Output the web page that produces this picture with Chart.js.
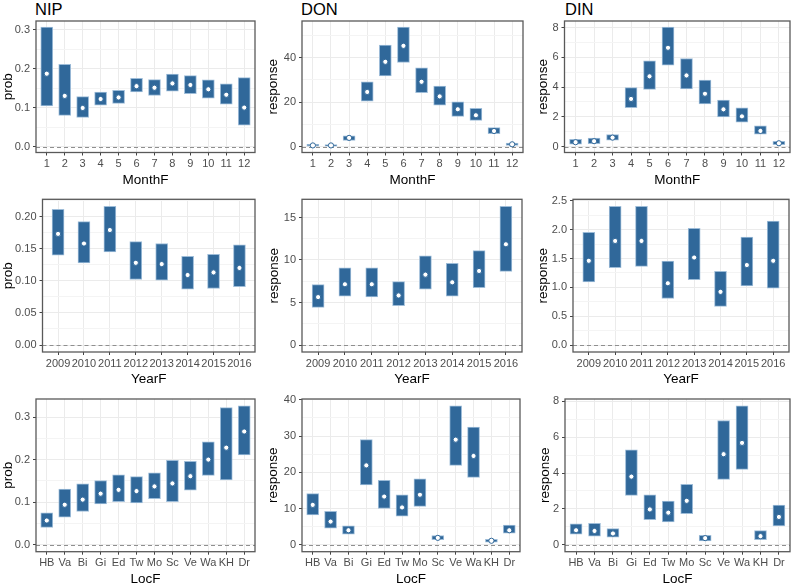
<!DOCTYPE html>
<html><head><meta charset="utf-8">
<script src="https://cdn.jsdelivr.net/npm/chart.js@4.4.1/dist/chart.umd.min.js"></script>
<style>
html,body{margin:0;padding:0;background:#fff;}
body{width:793px;height:584px;position:relative;overflow:hidden;font-family:"Liberation Sans",Arial,sans-serif;}
.ptitle{position:absolute;font-size:16.5px;line-height:18px;color:#000;white-space:nowrap;}
canvas{position:absolute;}
</style></head><body>
<div class="ptitle" style="left:35px;top:0px">NIP</div>
<div class="ptitle" style="left:301px;top:0px">DON</div>
<div class="ptitle" style="left:565px;top:0px">DIN</div>
<script>
// ---------- categories ----------
const months = ['1','2','3','4','5','6','7','8','9','10','11','12'];
const years = ['2009','2010','2011','2012','2013','2014','2015','2016'];
const locs = ['HB','Va','Bi','Gi','Ed','Tw','Mo','Sc','Ve','Wa','KH','Dr'];

// ---------- NIP by month ----------
const nipMonthMean = [0.187,0.130,0.099,0.122,0.126,0.155,0.151,0.162,0.158,0.147,0.133,0.100];
const nipMonthLow  = [0.104,0.080,0.075,0.106,0.111,0.140,0.131,0.142,0.136,0.124,0.109,0.055];
const nipMonthHigh = [0.307,0.211,0.128,0.140,0.144,0.175,0.172,0.186,0.182,0.171,0.161,0.177];
// ---------- DON by month ----------
const donMonthMean = [0.5,0.5,3.9,24.6,38.2,45.4,29.2,22.6,16.8,14.1,7.0,1.0];
const donMonthLow  = [0.2,0.2,2.8,20.4,31.8,37.9,24.3,18.7,13.6,11.8,5.8,0.5];
const donMonthHigh = [1.0,0.9,4.8,29.2,45.7,53.9,35.5,27.3,20.2,17.2,8.5,1.6];
// ---------- DIN by month ----------
const dinMonthMean = [0.29,0.36,0.60,3.20,4.72,6.64,4.78,3.55,2.50,2.03,1.05,0.22];
const dinMonthLow  = [0.16,0.20,0.42,2.61,3.84,5.47,3.87,2.86,1.99,1.63,0.83,0.12];
const dinMonthHigh = [0.49,0.56,0.80,3.96,5.77,8.04,5.92,4.47,3.13,2.61,1.39,0.35];
// ---------- NIP by year ----------
const nipYearMean = [0.173,0.158,0.179,0.128,0.126,0.109,0.113,0.120];
const nipYearLow  = [0.140,0.128,0.145,0.102,0.101,0.087,0.088,0.091];
const nipYearHigh = [0.211,0.192,0.216,0.161,0.158,0.138,0.141,0.156];
// ---------- DON by year ----------
const donYearMean = [5.64,7.15,7.15,5.83,8.28,7.38,8.71,11.85];
const donYearLow  = [4.43,5.75,5.67,4.62,6.57,5.75,6.76,8.67];
const donYearHigh = [7.11,9.09,9.09,7.46,10.49,9.60,11.11,16.32];
// ---------- DIN by year ----------
const dinYearMean = [1.462,1.806,1.806,1.072,1.519,0.923,1.388,1.462];
const dinYearLow  = [1.095,1.342,1.365,0.808,1.135,0.671,1.026,0.986];
const dinYearHigh = [1.955,2.408,2.408,1.456,2.024,1.279,1.875,2.150];
// ---------- NIP by location ----------
const nipLocMean = [0.057,0.094,0.106,0.120,0.129,0.126,0.137,0.144,0.161,0.200,0.228,0.266];
const nipLocLow  = [0.041,0.065,0.078,0.096,0.101,0.098,0.108,0.101,0.128,0.163,0.152,0.211];
const nipLocHigh = [0.075,0.131,0.143,0.151,0.164,0.160,0.169,0.198,0.196,0.242,0.322,0.326];
// ---------- DON by location ----------
const donLocMean = [11.0,6.4,4.0,21.9,13.3,10.3,13.8,1.9,29.0,24.5,1.1,4.0];
const donLocLow  = [8.2,4.6,2.9,16.5,10.0,7.9,10.6,1.37,21.9,18.6,0.7,3.2];
const donLocHigh = [14.1,9.2,5.2,29.0,17.8,13.8,18.2,2.55,38.3,32.5,1.5,5.4];
// ---------- DIN by location ----------
const dinLocMean = [0.81,0.77,0.63,3.80,1.97,1.79,2.45,0.37,5.05,5.68,0.48,1.55];
const dinLocLow  = [0.59,0.48,0.42,2.75,1.40,1.27,1.73,0.22,3.65,4.20,0.29,1.05];
const dinLocHigh = [1.16,1.20,0.90,5.29,2.78,2.43,3.37,0.52,6.93,7.74,0.79,2.21];

// ---------- tick labels (major) and minor grid positions ----------
const ticksNipMonth = ['0.0','0.1','0.2','0.3'];       const minorNipMonth = [0.05,0.15,0.25];
const ticksDonMonth = ['0','20','40'];                 const minorDonMonth = [10,30,50];
const ticksDinMonth = ['0','2','4','6','8'];           const minorDinMonth = [1,3,5,7];
const ticksNipYear  = ['0.00','0.05','0.10','0.15','0.20']; const minorNipYear = [0.025,0.075,0.125,0.175,0.225];
const ticksDonYear  = ['0','5','10','15'];             const minorDonYear = [2.5,7.5,12.5];
const ticksDinYear  = ['0.0','0.5','1.0','1.5','2.0','2.5']; const minorDinYear = [0.25,0.75,1.25,1.75,2.25];
const ticksNipLoc   = ['0.0','0.1','0.2','0.3'];       const minorNipLoc = [0.05,0.15,0.25];
const ticksDonLoc   = ['0','10','20','30','40'];       const minorDonLoc = [5,15,25,35];
const ticksDinLoc   = ['0','2','4','6','8'];           const minorDinLoc = [1,3,5,7];

const BLUE = '#30689a';
const EDGE = '#9dbcd8';
const FONT = '"Liberation Sans", Arial, sans-serif';

const framePlugin = {
  id: 'frame',
  beforeDatasetsDraw(chart) {
    const {ctx, chartArea: a, scales: {y}} = chart;
    const py = Math.round(y.getPixelForValue(0)) + 0.5;
    ctx.save();
    ctx.strokeStyle = '#8f8f8f'; ctx.lineWidth = 1; ctx.setLineDash([4, 3]);
    ctx.beginPath(); ctx.moveTo(a.left, py); ctx.lineTo(a.right, py); ctx.stroke();
    ctx.restore();
  },
  afterDraw(chart) {
    const {ctx, chartArea: a} = chart;
    ctx.save();
    ctx.strokeStyle = '#595959'; ctx.lineWidth = 1.3;
    ctx.strokeRect(a.left, a.top, a.right - a.left, a.bottom - a.top);
    ctx.restore();
  }
};

function makePanel(p) {
  const [L, T, R, B] = p.rect;
  const cL = Math.floor(p.yTitleX - 8.1);
  const cT = Math.floor(T - 12);
  const cR = Math.ceil(R + 4);
  const cB = Math.ceil(p.xTitleY + 8.1);
  const W = cR - cL, H = cB - cT;
  const canvas = document.createElement('canvas');
  canvas.width = W; canvas.height = H;
  canvas.style.left = cL + 'px'; canvas.style.top = cT + 'px';
  canvas.style.width = W + 'px'; canvas.style.height = H + 'px';
  document.body.appendChild(canvas);
  const yW = L - cL, xH = cB - B, padTop = T - cT, padRight = cR - R;
  const n = p.cats.length;
  const lo = Math.min(0, ...p.low), hi = Math.max(...p.high);
  const ex = (hi - lo) * 0.05;
  const majorVals = p.major.map(Number);
  const allTicks = majorVals.concat(p.minor).sort((a, b) => a - b);
  const majorIdx = v => majorVals.findIndex(m => Math.abs(m - v) < 1e-9);
  new Chart(canvas, {
    type: 'bar',
    data: {
      datasets: [
        { type: 'line', data: p.cats.map((c, i) => ({x: i + 1, y: p.mean[i]})), showLine: false,
          pointRadius: 2.6, pointBackgroundColor: '#ffffff', pointBorderColor: BLUE, pointBorderWidth: 1, order: 1 },
        { type: 'bar', data: p.cats.map((c, i) => ({x: i + 1, y: [p.low[i], p.high[i]]})),
          backgroundColor: BLUE, borderColor: EDGE, borderWidth: 1, borderSkipped: false, barThickness: 12, order: 2 }
      ]
    },
    options: {
      responsive: false, animation: false, devicePixelRatio: 1,
      layout: {padding: {top: padTop, right: padRight, left: 0, bottom: 0}},
      plugins: {legend: {display: false}, tooltip: {enabled: false}},
      scales: {
        x: {
          type: 'linear', min: 0.4, max: n + 0.6, offset: false, bounds: 'data',
          afterBuildTicks: s => { s.ticks = p.cats.map((c, i) => ({value: i + 1})); },
          afterFit: s => { s.height = xH; },
          ticks: {callback: v => p.cats[Math.round(v) - 1], autoSkip: false, maxRotation: 0, minRotation: 0,
                  font: {family: FONT, size: 11}, color: '#4d4d4d', padding: 2},
          grid: {offset: false, color: '#ebebeb', lineWidth: 1, tickColor: '#444', tickLength: 3},
          border: {display: false},
          title: {display: true, text: p.xTitle, font: {family: FONT, size: 13.5}, color: '#000', padding: {top: 0, bottom: 0}}
        },
        y: {
          type: 'linear', min: lo - ex, max: hi + ex, bounds: 'data',
          afterBuildTicks: s => { s.ticks = allTicks.map(v => ({value: v})); },
          afterFit: s => { s.width = yW; },
          ticks: {callback: v => { const i = majorIdx(v); return i >= 0 ? p.major[i] : ''; }, autoSkip: false,
                  font: {family: FONT, size: 11}, color: '#4d4d4d', padding: 3},
          grid: {
            color: ctx => (ctx.tick && majorIdx(ctx.tick.value) < 0) ? '#f4f4f4' : '#ebebeb',
            tickColor: ctx => (ctx.tick && majorIdx(ctx.tick.value) < 0) ? 'rgba(0,0,0,0)' : '#444',
            tickLength: 3, lineWidth: 1
          },
          border: {display: false},
          title: {display: true, text: p.yTitle, font: {family: FONT, size: 13.5}, color: '#000', padding: {top: 0, bottom: 0}}
        }
      }
    },
    plugins: [framePlugin]
  });
}

const panels = [
  {cats: months, mean: nipMonthMean, low: nipMonthLow, high: nipMonthHigh, major: ticksNipMonth, minor: minorNipMonth,
   yTitle: 'prob', xTitle: 'MonthF', rect: [36, 21, 256, 152.5], yTitleX: 9, xTitleY: 179},
  {cats: months, mean: donMonthMean, low: donMonthLow, high: donMonthHigh, major: ticksDonMonth, minor: minorDonMonth,
   yTitle: 'response', xTitle: 'MonthF', rect: [302, 21, 523.5, 152.5], yTitleX: 274, xTitleY: 179},
  {cats: months, mean: dinMonthMean, low: dinMonthLow, high: dinMonthHigh, major: ticksDinMonth, minor: minorDinMonth,
   yTitle: 'response', xTitle: 'MonthF', rect: [564.5, 21, 790.5, 152.5], yTitleX: 544, xTitleY: 179},
  {cats: years, mean: nipYearMean, low: nipYearLow, high: nipYearHigh, major: ticksNipYear, minor: minorNipYear,
   yTitle: 'prob', xTitle: 'YearF', rect: [42.5, 199.3, 256, 352], yTitleX: 8.5, xTitleY: 378},
  {cats: years, mean: donYearMean, low: donYearLow, high: donYearHigh, major: ticksDonYear, minor: minorDonYear,
   yTitle: 'response', xTitle: 'YearF', rect: [302, 199.3, 523, 352], yTitleX: 275, xTitleY: 378},
  {cats: years, mean: dinYearMean, low: dinYearLow, high: dinYearHigh, major: ticksDinYear, minor: minorDinYear,
   yTitle: 'response', xTitle: 'YearF', rect: [573, 199.3, 789.5, 352], yTitleX: 544, xTitleY: 378},
  {cats: locs, mean: nipLocMean, low: nipLocLow, high: nipLocHigh, major: ticksNipLoc, minor: minorNipLoc,
   yTitle: 'prob', xTitle: 'LocF', rect: [36, 399, 256, 551.7], yTitleX: 8.5, xTitleY: 578},
  {cats: locs, mean: donLocMean, low: donLocLow, high: donLocHigh, major: ticksDonLoc, minor: minorDonLoc,
   yTitle: 'response', xTitle: 'LocF', rect: [302, 399, 521, 551.7], yTitleX: 274, xTitleY: 578},
  {cats: locs, mean: dinLocMean, low: dinLocLow, high: dinLocHigh, major: ticksDinLoc, minor: minorDinLoc,
   yTitle: 'response', xTitle: 'LocF', rect: [565, 399, 791, 551.7], yTitleX: 546, xTitleY: 578}
];
panels.forEach(makePanel);
</script>
</body></html>
